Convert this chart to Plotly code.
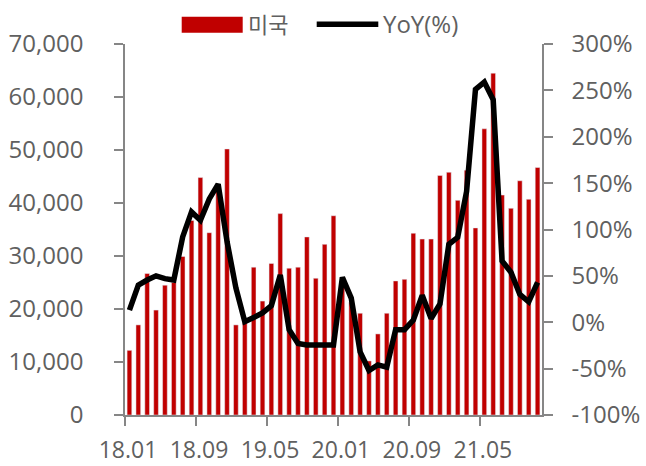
import plotly.graph_objects as go

months = ["18.01","18.02","18.03","18.04","18.05","18.06","18.07","18.08","18.09","18.10","18.11","18.12",
          "19.01","19.02","19.03","19.04","19.05","19.06","19.07","19.08","19.09","19.10","19.11","19.12",
          "20.01","20.02","20.03","20.04","20.05","20.06","20.07","20.08","20.09","20.10","20.11","20.12",
          "21.01","21.02","21.03","21.04","21.05","21.06","21.07","21.08","21.09","21.10","21.11"]
us_values = [12200, 17000, 26700, 19800, 24500, 25000, 29900, 36700, 44800, 34400, 42600, 50200,
             17000, 17400, 27900, 21500, 28600, 38000, 27700, 27900, 33600, 25800, 32200, 37600,
             25000, 21300, 19200, 10200, 15300, 19200, 25300, 25600, 34300, 33200, 33200, 45200,
             45800, 40500, 46200, 35300, 54000, 64500, 41500, 39000, 44200, 40700, 46700]
yoy_pct = [13, 40, 45.5, 50, 47, 45.5, 92, 119, 110, 133, 149, 87,
           37, 0.6, 5, 10, 18, 51, -8, -23, -24.5, -24.5, -24.5, -24.5,
           48.5, 26, -32, -52, -46, -48.5, -8, -8, 2.4, 29, 4, 19.7,
           84, 91.6, 141, 251, 259, 240, 66, 54, 30, 22, 43]
x_tick_labels = ["18.01", "18.09", "19.05", "20.01", "20.09", "21.05"]
left_ticks = [0, 10000, 20000, 30000, 40000, 50000, 60000, 70000]
right_ticks = [-100, -50, 0, 50, 100, 150, 200, 250, 300]
legend_names = ["미국", "YoY(%)"]

RED = "#C00000"
GREY_TXT = "#606060"
AXIS = "#868686"
FONT = "Open Sans, Noto Sans CJK KR, sans-serif"

idx = list(range(len(months)))
x_tick_pos = [months.index(m) - 0.5 for m in x_tick_labels]

fig = go.Figure()
fig.add_trace(go.Bar(x=idx, y=us_values, marker_color=RED, width=0.53, name=legend_names[0],
                     showlegend=False))
fig.add_trace(go.Scatter(x=idx, y=yoy_pct, mode="lines", line=dict(color="black", width=5.5),
                         yaxis="y2", name=legend_names[1], showlegend=False))

fig.update_layout(
    width=646, height=466,
    margin=dict(l=125, r=104, t=44, b=51),
    paper_bgcolor="white", plot_bgcolor="white",
    font=dict(family=FONT, size=24, color=GREY_TXT),
    bargap=0.47,
    xaxis=dict(
        range=[-0.5, len(months) - 0.5], tickmode="array", tickvals=x_tick_pos, ticktext=x_tick_labels,
        showline=True, linecolor=AXIS, linewidth=1.5, ticks="outside", ticklen=9, tickcolor=AXIS,
        tickwidth=1.5, showgrid=False, zeroline=False, ticklabelshift=3, ticklabelstandoff=5,
        tickfont=dict(size=23, color=GREY_TXT), automargin=False,
    ),
    yaxis=dict(
        range=[0, 70000], tickmode="array", tickvals=left_ticks,
        ticktext=[f"{v:,}" for v in left_ticks],
        showline=True, linecolor=AXIS, linewidth=1.5, ticks="outside", ticklen=9, tickcolor=AXIS,
        tickwidth=1.5, showgrid=False, zeroline=False, ticklabelstandoff=26,
        tickfont=dict(size=24, color=GREY_TXT), automargin=False,
    ),
    yaxis2=dict(
        range=[-100, 300], overlaying="y", side="right", tickmode="array", tickvals=right_ticks,
        ticktext=[f"{v}%" for v in right_ticks],
        showline=True, linecolor=AXIS, linewidth=1.5, ticks="outside", ticklen=9, tickcolor=AXIS,
        tickwidth=1.5, showgrid=False, zeroline=False, ticklabelstandoff=14,
        tickfont=dict(size=24, color=GREY_TXT), automargin=False,
    ),
)

# custom legend (top center)
def px_x(p):
    return (p - 125) / 417.0

def px_y(p):
    return (415 - p) / 371.0

fig.add_shape(type="rect", xref="paper", yref="paper",
              x0=px_x(181.7), x1=px_x(242.7), y0=px_y(32.7), y1=px_y(16.7),
              fillcolor=RED, line=dict(width=0))
fig.add_shape(type="line", xref="paper", yref="paper",
              x0=px_x(316.7), x1=px_x(378.3), y0=px_y(24.3), y1=px_y(24.3),
              line=dict(color="black", width=5.5))
fig.add_annotation(xref="paper", yref="paper", x=px_x(246), y=px_y(23.5), text=legend_names[0],
                   showarrow=False, xanchor="left", yanchor="middle",
                   font=dict(family=FONT, size=22, color=GREY_TXT))
fig.add_annotation(xref="paper", yref="paper", x=px_x(381), y=px_y(23.5), text=legend_names[1],
                   showarrow=False, xanchor="left", yanchor="middle",
                   font=dict(family=FONT, size=24, color=GREY_TXT))

fig.write_html("out.html", config={"displayModeBar": False},
               post_script="document.body.style.margin='0px';")
